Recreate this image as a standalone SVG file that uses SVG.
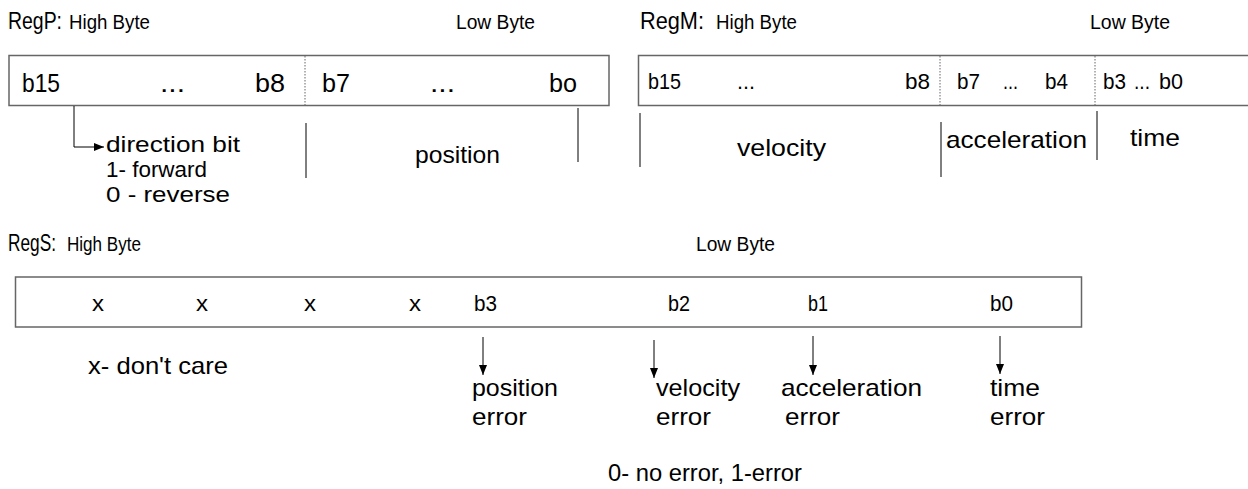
<svg xmlns="http://www.w3.org/2000/svg" width="1248" height="489" viewBox="0 0 1248 489">
<defs>
<style>
text{font-family:"Liberation Sans",Arial,sans-serif;fill:#000}
.reg{font-size:24px}
.lbl{font-size:20px}
.bit{font-size:26px}
.bitm{font-size:22px}
.sub{font-size:24px}
.dir{font-size:21.5px}
.bits{font-size:22px}
.box{fill:#fff;stroke:#666;stroke-width:1.5}
.dot{stroke:#666;stroke-width:1;stroke-dasharray:1.5 1.5}
.ln{stroke:#000;stroke-width:1;fill:none}
</style>
<marker id="ah" viewBox="0 0 10 10" refX="10" refY="5" markerWidth="10" markerHeight="10" markerUnits="userSpaceOnUse" orient="auto">
<path d="M0,1 L10,5 L0,9 Z" fill="#000"/>
</marker>
</defs>
<rect width="1248" height="489" fill="#fff"/>

<g id="regP">
<text x="8" y="29" class="reg" textLength="54" lengthAdjust="spacingAndGlyphs">RegP:</text>
<text x="69" y="29" class="lbl" textLength="81" lengthAdjust="spacingAndGlyphs">High Byte</text>
<text x="456" y="29" class="lbl" textLength="79" lengthAdjust="spacingAndGlyphs">Low Byte</text>
<rect class="box" x="9" y="55.5" width="600" height="50"/>
<line class="dot" x1="305" y1="56" x2="305" y2="105"/>
<text x="22" y="92" class="bit" textLength="38" lengthAdjust="spacingAndGlyphs">b15</text>
<text x="160" y="92" class="bit" textLength="25" lengthAdjust="spacingAndGlyphs">...</text>
<text x="255" y="92" class="bit" textLength="30" lengthAdjust="spacingAndGlyphs">b8</text>
<text x="322" y="92" class="bit" textLength="28" lengthAdjust="spacingAndGlyphs">b7</text>
<text x="430" y="92" class="bit" textLength="25" lengthAdjust="spacingAndGlyphs">...</text>
<text x="549" y="92" class="bit" textLength="28" lengthAdjust="spacingAndGlyphs">bo</text>
<text x="106" y="152" class="dir" textLength="134" lengthAdjust="spacingAndGlyphs">direction bit</text>
<text x="106" y="177" class="dir" textLength="101" lengthAdjust="spacingAndGlyphs">1- forward</text>
<text x="106" y="202" class="dir" textLength="124" lengthAdjust="spacingAndGlyphs">0 - reverse</text>
<text x="415" y="163" class="sub" textLength="85" lengthAdjust="spacingAndGlyphs">position</text>
</g>

<g id="regM">
<text x="640" y="29" class="reg" textLength="64" lengthAdjust="spacingAndGlyphs">RegM:</text>
<text x="716" y="29" class="lbl" textLength="81" lengthAdjust="spacingAndGlyphs">High Byte</text>
<text x="1090" y="29" class="lbl" textLength="80" lengthAdjust="spacingAndGlyphs">Low Byte</text>
<rect class="box" x="638.5" y="55.5" width="620" height="50"/>
<line class="dot" x1="940" y1="56" x2="940" y2="105"/>
<line class="dot" x1="1095" y1="56" x2="1095" y2="105"/>
<text x="648" y="89" class="bitm" textLength="33" lengthAdjust="spacingAndGlyphs">b15</text>
<text x="737" y="89" class="bitm" textLength="18" lengthAdjust="spacingAndGlyphs">...</text>
<text x="905" y="89" class="bitm" textLength="25" lengthAdjust="spacingAndGlyphs">b8</text>
<text x="957" y="89" class="bitm" textLength="23" lengthAdjust="spacingAndGlyphs">b7</text>
<text x="1003" y="89" class="bitm" textLength="15" lengthAdjust="spacingAndGlyphs">...</text>
<text x="1045" y="89" class="bitm" textLength="23" lengthAdjust="spacingAndGlyphs">b4</text>
<text x="1103" y="89" class="bitm" textLength="23" lengthAdjust="spacingAndGlyphs">b3</text>
<text x="1134" y="89" class="bitm" textLength="16" lengthAdjust="spacingAndGlyphs">...</text>
<text x="1159" y="89" class="bitm" textLength="24" lengthAdjust="spacingAndGlyphs">b0</text>
<text x="737" y="156" class="sub" textLength="89" lengthAdjust="spacingAndGlyphs">velocity</text>
<text x="946" y="148" class="sub" textLength="141" lengthAdjust="spacingAndGlyphs">acceleration</text>
<text x="1130" y="146" class="sub" textLength="50" lengthAdjust="spacingAndGlyphs">time</text>
</g>

<g id="regS">
<text x="8" y="251" class="reg" textLength="48" lengthAdjust="spacingAndGlyphs">RegS:</text>
<text x="67" y="251" class="lbl" textLength="74" lengthAdjust="spacingAndGlyphs">High Byte</text>
<text x="696" y="251" class="lbl" textLength="79" lengthAdjust="spacingAndGlyphs">Low Byte</text>
<rect class="box" x="15.5" y="277" width="1066" height="50"/>
<text x="92" y="311" class="bits" textLength="12" lengthAdjust="spacingAndGlyphs">x</text>
<text x="196" y="311" class="bits" textLength="12" lengthAdjust="spacingAndGlyphs">x</text>
<text x="304" y="311" class="bits" textLength="12" lengthAdjust="spacingAndGlyphs">x</text>
<text x="409" y="311" class="bits" textLength="12" lengthAdjust="spacingAndGlyphs">x</text>
<text x="474" y="311" class="bits" textLength="23" lengthAdjust="spacingAndGlyphs">b3</text>
<text x="668" y="311" class="bits" textLength="22" lengthAdjust="spacingAndGlyphs">b2</text>
<text x="808" y="311" class="bits" textLength="20" lengthAdjust="spacingAndGlyphs">b1</text>
<text x="990" y="311" class="bits" textLength="23" lengthAdjust="spacingAndGlyphs">b0</text>
<text x="88" y="374" class="sub" textLength="140" lengthAdjust="spacingAndGlyphs">x- don't care</text>
<text x="472" y="396" class="sub" textLength="86" lengthAdjust="spacingAndGlyphs">position</text>
<text x="472" y="425" class="sub" textLength="55" lengthAdjust="spacingAndGlyphs">error</text>
<text x="656" y="396" class="sub" textLength="84" lengthAdjust="spacingAndGlyphs">velocity</text>
<text x="656" y="425" class="sub" textLength="55" lengthAdjust="spacingAndGlyphs">error</text>
<text x="781" y="396" class="sub" textLength="141" lengthAdjust="spacingAndGlyphs">acceleration</text>
<text x="785" y="425" class="sub" textLength="55" lengthAdjust="spacingAndGlyphs">error</text>
<text x="990" y="396" class="sub" textLength="50" lengthAdjust="spacingAndGlyphs">time</text>
<text x="990" y="425" class="sub" textLength="55" lengthAdjust="spacingAndGlyphs">error</text>
<text x="608" y="481" class="sub" textLength="194" lengthAdjust="spacingAndGlyphs">0- no error, 1-error</text>
</g>

<g id="connectors">
<polyline class="ln" points="74,106 74,147 104,147" marker-end="url(#ah)"/>
<line class="ln" x1="306" y1="123" x2="306" y2="178"/>
<line class="ln" x1="578" y1="108" x2="578" y2="162"/>
<line class="ln" x1="640" y1="113" x2="640" y2="167"/>
<line class="ln" x1="941" y1="122" x2="941" y2="177"/>
<line class="ln" x1="1097" y1="111" x2="1097" y2="160"/>
<line class="ln" x1="483" y1="337" x2="483" y2="375" marker-end="url(#ah)"/>
<line class="ln" x1="654" y1="340" x2="654" y2="378" marker-end="url(#ah)"/>
<line class="ln" x1="813" y1="336" x2="813" y2="375" marker-end="url(#ah)"/>
<line class="ln" x1="1000" y1="336" x2="1000" y2="374" marker-end="url(#ah)"/>
</g>
</svg>
